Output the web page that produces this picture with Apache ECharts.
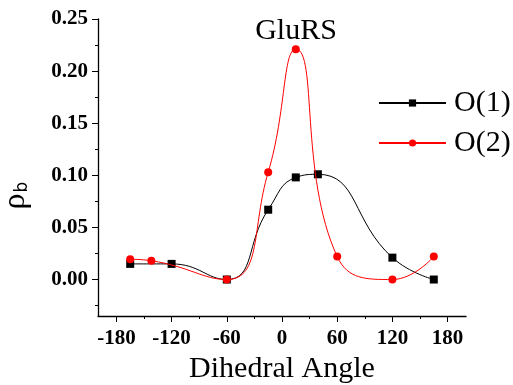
<!DOCTYPE html>
<html>
<head>
<meta charset="utf-8">
<script src="https://cdn.jsdelivr.net/npm/echarts@6/dist/echarts.min.js"></script>
<style>
  html, body { margin: 0; padding: 0; background: #fff; }
  #chart { width: 513px; height: 385px; }
</style>
</head>
<body>
<div id="chart"></div>
<script>
// 数据
var anglesO1 = [-165, -120, -60, -15, 15, 39, 120, 165];
var valuesO1 = [0.015, 0.015, 0.0, 0.067, 0.098, 0.101, 0.021, 0.0];
var anglesO2 = [-165, -142, -60, -15, 15, 60, 120, 165];
var valuesO2 = [0.0195, 0.018, 0.0, 0.103, 0.221, 0.022, 0.0, 0.022];

var xMajorTicks = [-180, -120, -60, 0, 60, 120, 180];
var xMinorTicks = [-150, -90, -30, 30, 90, 150];
var yMajorTicks = [0, 0.05, 0.10, 0.15, 0.20, 0.25];
var yMinorTicks = [-0.025, 0.025, 0.075, 0.125, 0.175, 0.225];

var serif = "'Liberation Serif', 'DejaVu Serif', serif";

function pairs(xs, ys) {
  return xs.map(function (x, i) { return [x, ys[i]]; });
}

var chart = echarts.init(document.getElementById('chart'));

var option = {
  backgroundColor: '#fff',
  animation: false,
  title: {
    text: 'GluRS',
    left: 291,
    top: 11,
    textAlign: 'center',
    textStyle: { fontFamily: serif, fontSize: 30, fontWeight: 'normal', color: '#000' }
  },
  legend: {
    orient: 'vertical',
    left: 373,
    top: 83,
    itemWidth: 67,
    itemHeight: 9,
    itemGap: 10,
    textStyle: { fontFamily: serif, fontSize: 30, color: '#000', padding: [0, 0, 0, 3] },
    data: ['O(1)', 'O(2)']
  },
  grid: { left: 98, right: 47, top: 19, bottom: 69, outerBoundsMode: 'none' },
  xAxis: [{
    type: 'value',
    min: -200,
    max: 200,
    name: 'Dihedral Angle',
    nameLocation: 'middle',
    nameGap: 38,
    nameTextStyle: { fontFamily: serif, fontSize: 30, color: '#000' },
    axisLine: { onZero: false, lineStyle: { color: '#000', width: 1.3 } },
    axisTick: { length: 6, customValues: xMajorTicks, lineStyle: { color: '#000' } },
    axisLabel: {
      customValues: xMajorTicks,
      margin: 12,
      fontFamily: serif, fontSize: 21, fontWeight: 'bold', color: '#000'
    },
    splitLine: { show: false }
  }, {
    type: 'value',
    position: 'bottom',
    min: -200,
    max: 200,
    axisLine: { show: false, onZero: false },
    axisTick: { length: 3, customValues: xMinorTicks, lineStyle: { color: '#000' } },
    axisLabel: { show: false },
    splitLine: { show: false }
  }],
  yAxis: [{
    type: 'value',
    min: -0.035,
    max: 0.25,
    name: '{r|ρ}{s|b}',
    nameLocation: 'middle',
    nameRotate: 90,
    nameGap: 66,
    nameTextStyle: {
      padding: [0, 56, 0, 0],
      rich: {
        r: { fontFamily: serif, fontSize: 32, color: '#000' },
        s: { fontFamily: "'DejaVu Sans', sans-serif", fontSize: 17, color: '#000', padding: [14, 0, 0, 1] }
      }
    },
    axisLine: { show: true, onZero: false, lineStyle: { color: '#000', width: 1.3 } },
    axisTick: { show: true, length: 6, customValues: yMajorTicks, lineStyle: { color: '#000' } },
    axisLabel: {
      customValues: yMajorTicks,
      margin: 10,
      formatter: function (v) { return v.toFixed(2); },
      fontFamily: serif, fontSize: 21, fontWeight: 'bold', color: '#000'
    },
    splitLine: { show: false }
  }, {
    type: 'value',
    position: 'left',
    min: -0.035,
    max: 0.25,
    axisLine: { show: false, onZero: false },
    axisTick: { show: true, length: 3, customValues: yMinorTicks, lineStyle: { color: '#000' } },
    axisLabel: { show: false },
    splitLine: { show: false }
  }],
  series: [{
    name: 'O(1)',
    type: 'line',
    smooth: true,
    symbol: 'rect',
    symbolSize: 8,
    color: '#000',
    lineStyle: { color: '#000', width: 1 },
    itemStyle: { color: '#000' },
    data: pairs(anglesO1, valuesO1),
    z: 3
  }, {
    name: 'O(2)',
    type: 'line',
    smooth: true,
    symbol: 'circle',
    symbolSize: 8,
    color: '#ff0000',
    lineStyle: { color: '#ff0000', width: 1 },
    itemStyle: { color: '#ff0000' },
    data: pairs(anglesO2, valuesO2),
    z: 4
  }]
};

chart.setOption(option);
</script>
</body>
</html>
